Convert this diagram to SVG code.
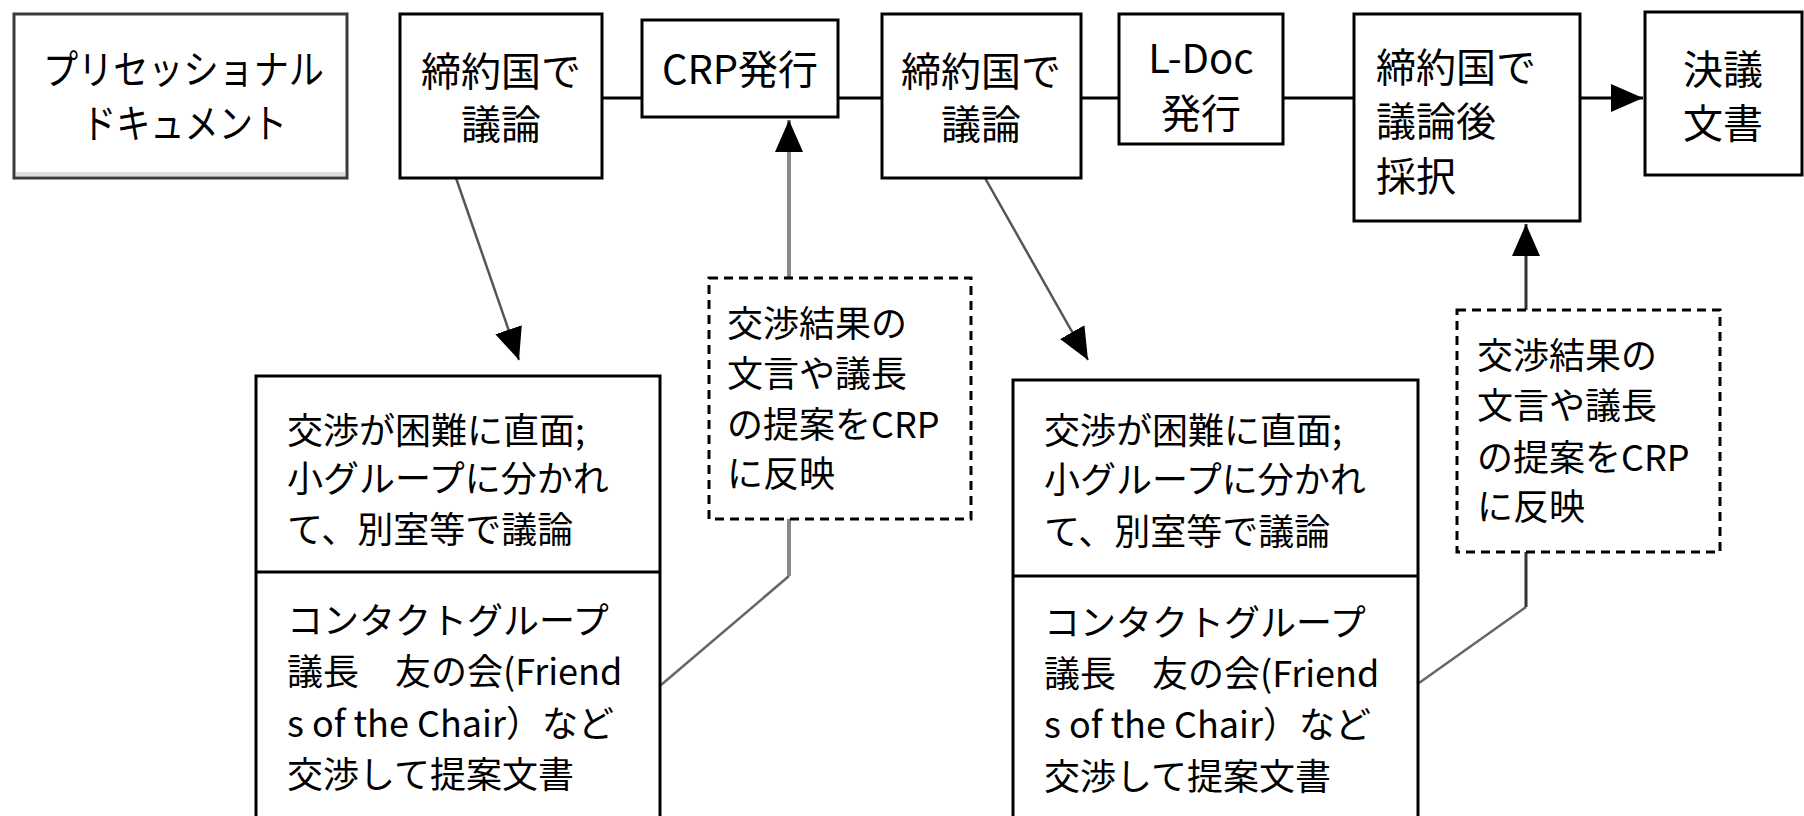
<svg xmlns="http://www.w3.org/2000/svg" width="1804" height="816" viewBox="0 0 1804 816">
<defs>
<style>
.box{fill:#fff;stroke:#000;stroke-width:3}
.pre{fill:#fff;stroke:#3a3a3a;stroke-width:3}
.dash{fill:#fff;stroke:#000;stroke-width:3;stroke-dasharray:9 6}
.t{font-family:"Noto Sans CJK JP","Noto Sans CJK SC",sans-serif;font-size:40px;fill:#000}
.s{font-size:36px}
.m{text-anchor:middle}
.ln{fill:none;stroke:#000;stroke-width:3}
.g1{fill:none;stroke:#555;stroke-width:2.5}
.g2{fill:none;stroke:#888;stroke-width:4}
.g3{fill:none;stroke:#333;stroke-width:3}
.g4{fill:none;stroke:#666;stroke-width:2.5}
</style>
<marker id="ah" viewBox="0 0 32 28" refX="32" refY="14" markerWidth="32" markerHeight="28" markerUnits="userSpaceOnUse" orient="auto"><path d="M0,0 L32,14 L0,28 z" fill="#000"/></marker>
</defs>
<rect width="1804" height="816" fill="#fff"/>
<g id="connectors">
<line class="ln" x1="602" y1="98" x2="642" y2="98"/>
<line class="ln" x1="838" y1="98" x2="882" y2="98"/>
<line class="ln" x1="1081" y1="98" x2="1119" y2="98"/>
<line class="ln" x1="1283" y1="98" x2="1354" y2="98"/>
<line class="ln" x1="1580" y1="98" x2="1643" y2="98" marker-end="url(#ah)"/>
<line class="g1" x1="456" y1="178" x2="519" y2="360" marker-end="url(#ah)"/>
<line class="g1" x1="985" y1="178" x2="1088" y2="360" marker-end="url(#ah)"/>
<polyline class="g4" points="661,685 789,576"/>
<polyline class="g2" points="789,576 789,519"/>
<line class="g2" x1="789" y1="278" x2="789" y2="120" marker-end="url(#ah)"/>
<polyline class="g4" points="1419,683 1526,607"/>
<polyline class="g3" points="1526,607 1526,552"/>
<line class="g3" x1="1526" y1="310" x2="1526" y2="224" marker-end="url(#ah)"/>
</g>
<g id="presessional">
<rect class="pre" x="14" y="14" width="333" height="164"/>
<rect x="16" y="172" width="329" height="4" fill="#ddd"/>
<text class="t" x="43" y="84" textLength="281" lengthAdjust="spacingAndGlyphs">プリセッショナル</text>
<text class="t" x="82" y="138" textLength="205" lengthAdjust="spacingAndGlyphs">ドキュメント</text>
</g>
<g id="discuss1">
<rect class="box" x="400" y="14" width="202" height="164"/>
<text class="t m" x="501" y="86">締約国で</text>
<text class="t m" x="501" y="139">議論</text>
</g>
<g id="crp">
<rect class="box" x="642" y="20" width="196" height="97"/>
<text class="t m" x="740" y="84">CRP発行</text>
</g>
<g id="discuss2">
<rect class="box" x="882" y="14" width="199" height="164"/>
<text class="t m" x="981" y="86">締約国で</text>
<text class="t m" x="981" y="139">議論</text>
</g>
<g id="ldoc">
<rect class="box" x="1119" y="14" width="164" height="130"/>
<text class="t m" x="1201" y="73">L-Doc</text>
<text class="t m" x="1201" y="128">発行</text>
</g>
<g id="adopt">
<rect class="box" x="1354" y="14" width="226" height="207"/>
<text class="t" x="1376" y="82">締約国で</text>
<text class="t" x="1376" y="136">議論後</text>
<text class="t" x="1376" y="191">採択</text>
</g>
<g id="resolution">
<rect class="box" x="1645" y="12" width="157" height="163"/>
<text class="t m" x="1723" y="84">決議</text>
<text class="t m" x="1723" y="138">文書</text>
</g>
<g id="group1">
<rect class="box" x="256" y="376" width="404" height="470"/>
<line class="ln" x1="256" y1="572" x2="660" y2="572"/>
<text class="t s" x="287" y="444">交渉が困難に直面;</text>
<text class="t s" x="287" y="492">小グループに分かれ</text>
<text class="t s" x="287" y="543">て、別室等で議論</text>
<text class="t s" x="287" y="634">コンタクトグループ</text>
<text class="t s" x="287" y="685">議長　友の会(Friend</text>
<text class="t s" x="287" y="737">s of the Chair）など</text>
<text class="t s" x="287" y="788">交渉して提案文書</text>
</g>
<g id="reflect1">
<rect class="dash" x="709" y="278" width="262" height="241"/>
<text class="t s" x="727" y="337">交渉結果の</text>
<text class="t s" x="727" y="387">文言や議長</text>
<text class="t s" x="727" y="438">の提案をCRP</text>
<text class="t s" x="727" y="487">に反映</text>
</g>
<g id="group2">
<rect class="box" x="1013" y="380" width="405" height="470"/>
<line class="ln" x1="1013" y1="576" x2="1418" y2="576"/>
<text class="t s" x="1044" y="444">交渉が困難に直面;</text>
<text class="t s" x="1044" y="493">小グループに分かれ</text>
<text class="t s" x="1044" y="545">て、別室等で議論</text>
<text class="t s" x="1044" y="636">コンタクトグループ</text>
<text class="t s" x="1044" y="687">議長　友の会(Friend</text>
<text class="t s" x="1044" y="738">s of the Chair）など</text>
<text class="t s" x="1044" y="790">交渉して提案文書</text>
</g>
<g id="reflect2">
<rect class="dash" x="1457" y="310" width="263" height="242"/>
<text class="t s" x="1477" y="369">交渉結果の</text>
<text class="t s" x="1477" y="419">文言や議長</text>
<text class="t s" x="1477" y="471">の提案をCRP</text>
<text class="t s" x="1477" y="520">に反映</text>
</g>
</svg>
